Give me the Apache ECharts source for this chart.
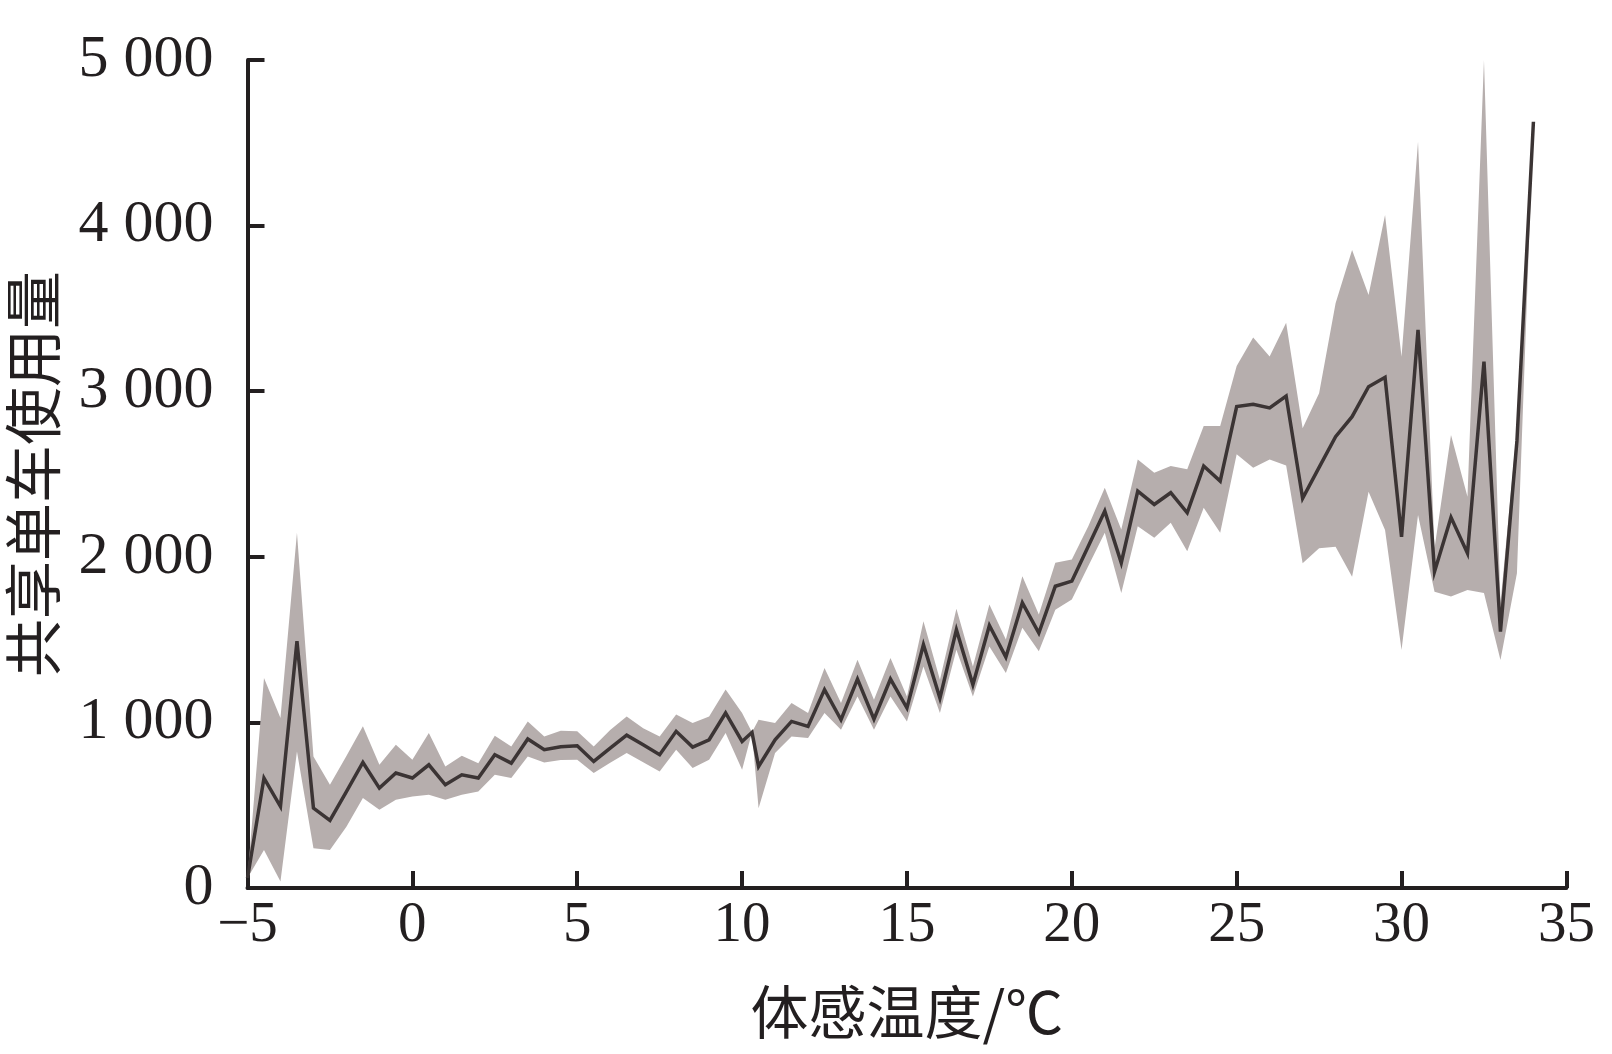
<!DOCTYPE html>
<html>
<head>
<meta charset="utf-8">
<script src="https://cdn.jsdelivr.net/npm/echarts@6/dist/echarts.min.js"></script>
<style>
html,body{margin:0;padding:0;background:#fff;}
#chart{width:1612px;height:1054px;}
</style>
</head>
<body>
<div id="chart"></div>
<script>
// Apparent temperature (°C)
const temps = [-5.0,-4.5,-4.0,-3.5,-3.0,-2.5,-2.0,-1.5,-1.0,-0.5,0.0,0.5,1.0,1.5,2.0,2.5,3.0,3.5,4.0,4.5,5.0,5.5,6.0,6.5,7.0,7.5,8.0,8.5,9.0,9.5,10.0,10.3,10.5,11.0,11.5,12.0,12.5,13.0,13.5,14.0,14.5,15.0,15.5,16.0,16.5,17.0,17.5,18.0,18.5,19.0,19.5,20.0,20.5,21.0,21.5,22.0,22.5,23.0,23.5,24.0,24.5,25.0,25.5,26.0,26.5,27.0,27.5,28.0,28.5,29.0,29.5,30.0,30.5,31.0,31.5,32.0,32.5,33.0,33.5,34.0];
// Mean usage
const meanUsage = [60,664,492,1490,482,408,582,758,603,694,664,744,623,684,664,805,754,900,835,853,859,764,845,923,865,805,946,851,895,1057,885,940,734,895,1006,976,1198,1016,1262,1020,1262,1087,1470,1147,1560,1228,1585,1394,1722,1540,1822,1853,2064,2276,1964,2397,2316,2387,2266,2548,2457,2907,2921,2899,2971,2353,2540,2725,2846,3027,3084,2121,3370,1910,2238,2021,3178,1548,2700,4627];
// Confidence band lower bound
const lowerBound = [60,230,39,825,240,230,370,543,472,533,553,563,533,563,583,684,664,794,758,773,775,694,757,815,760,704,835,724,775,936,714,940,482,815,915,906,1057,956,1157,956,1157,1006,1338,1057,1439,1157,1459,1299,1571,1429,1681,1742,1944,2145,1782,2185,2115,2205,2034,2296,2145,2619,2538,2588,2551,1961,2051,2061,1880,2393,2162,1437,2252,1789,1761,1800,1781,1377,1900,4627];
// Confidence band upper bound
const upperBound = [60,1268,1026,2145,794,623,797,976,744,865,774,936,734,799,754,920,855,1006,915,950,946,855,954,1036,965,915,1047,996,1036,1198,1057,940,1016,996,1117,1057,1329,1117,1379,1137,1389,1157,1611,1258,1686,1338,1712,1500,1883,1651,1964,1984,2185,2417,2165,2588,2508,2548,2528,2790,2790,3152,3324,3210,3414,2776,2987,3531,3853,3581,4064,3208,4507,2050,2736,2363,5000,1720,2780,4627];

const xTicks = [-5,0,5,10,15,20,25,30,35];
const yTicks = [0,1000,2000,3000,4000,5000];

const TEXT = '#231f20';
const BAND = '#b6aead';
const LINE = '#3b3434';
const NUM_FONT = '"Liberation Serif","Times New Roman",serif';
const CJK_FONT = '"Noto Sans CJK SC","Noto Sans",sans-serif';

const chart = echarts.init(document.getElementById('chart'), null, {renderer:'canvas'});

const bandData = temps.map((t,i)=>[t, lowerBound[i], upperBound[i]]);
const lineData = temps.map((t,i)=>[t, meanUsage[i]]);

chart.setOption({
  animation:false,
  backgroundColor:'#ffffff',
  grid:{left:247.5, right:45.6, top:60, bottom:166, containLabel:false, outerBoundsMode:'none'},
  xAxis:{
    type:'value',
    min:xTicks[0], max:xTicks[xTicks.length-1], interval:5,
    name:'体感温度/℃',
    nameLocation:'middle',
    nameGap:95,
    nameTextStyle:{fontFamily:CJK_FONT, fontSize:58, color:TEXT},
    axisLine:{show:true, onZero:false, lineStyle:{color:TEXT, width:4}},
    axisTick:{show:true, inside:true, length:17, lineStyle:{color:TEXT, width:4}},
    axisLabel:{show:true, margin:10, fontFamily:NUM_FONT, fontSize:57, color:TEXT,
      formatter:v => v<0 ? '\u2212'+Math.abs(v) : String(v)},
    splitLine:{show:false}
  },
  yAxis:{
    type:'value',
    min:yTicks[0], max:yTicks[yTicks.length-1], interval:1000,
    name:'共享单车使用量',
    nameLocation:'middle',
    nameGap:186,
    nameRotate:90,
    nameTextStyle:{fontFamily:CJK_FONT, fontSize:58, color:TEXT},
    axisLine:{show:true, onZero:false, lineStyle:{color:TEXT, width:4}},
    axisTick:{show:true, inside:true, length:17, lineStyle:{color:TEXT, width:4}},
    axisLabel:{show:true, margin:34, fontFamily:NUM_FONT, fontSize:60, color:TEXT,
      formatter:v => v===0 ? '0' : (v/1000)+' 000'},
    splitLine:{show:false}
  },
  series:[
    {
      type:'custom',
      silent:true,
      z:1,
      data:bandData,
      encode:{x:0, y:[1,2]},
      renderItem:function(params, api){
        if (params.dataIndex !== 0) return null;
        const pts = [];
        for (let i=0;i<temps.length;i++) pts.push(api.coord([temps[i], upperBound[i]]));
        for (let i=temps.length-1;i>=0;i--) pts.push(api.coord([temps[i], lowerBound[i]]));
        return {type:'polygon', shape:{points:pts}, style:{fill:BAND, stroke:null}};
      }
    },
    {
      type:'line',
      z:2,
      data:lineData,
      symbol:'none',
      lineStyle:{color:LINE, width:3.5, join:'miter'}
    }
  ]
});
</script>
</body>
</html>
